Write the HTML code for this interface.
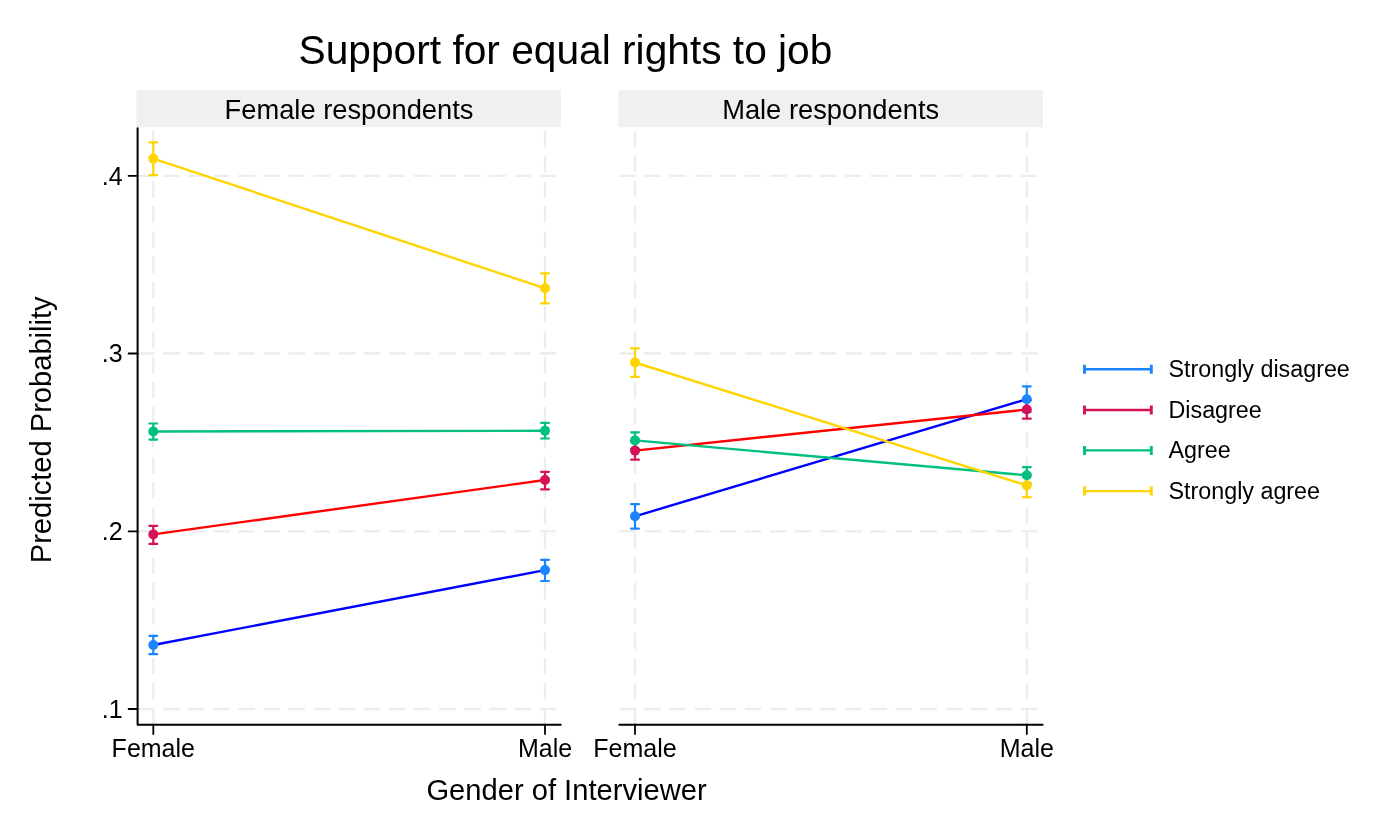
<!DOCTYPE html>
<html><head><meta charset="utf-8"><style>
html,body{margin:0;padding:0;background:#fff;width:1399px;height:839px;overflow:hidden}
body{position:relative;font-family:"Liberation Sans",sans-serif}
</style></head><body>
<svg width="1399" height="839" viewBox="0 0 1399 839" style="position:absolute;left:0;top:0;will-change:transform">
<rect x="136.5" y="90.2" width="424.4" height="37" fill="#f0f0f0"/>
<rect x="618.3" y="90.2" width="424.7" height="37" fill="#f0f0f0"/>
<line x1="137.9" y1="175.8" x2="560.7" y2="175.8" stroke="#ededed" stroke-width="2.3" stroke-dasharray="16.6 8.5"/>
<line x1="137.9" y1="353.5" x2="560.7" y2="353.5" stroke="#ededed" stroke-width="2.3" stroke-dasharray="16.6 8.5"/>
<line x1="137.9" y1="531.3" x2="560.7" y2="531.3" stroke="#ededed" stroke-width="2.3" stroke-dasharray="16.6 8.5"/>
<line x1="137.9" y1="709.0" x2="560.7" y2="709.0" stroke="#ededed" stroke-width="2.3" stroke-dasharray="16.6 8.5"/>
<line x1="153.3" y1="724.7" x2="153.3" y2="128.0" stroke="#ededed" stroke-width="2.3" stroke-dasharray="16.6 8.5"/>
<line x1="545.0" y1="724.7" x2="545.0" y2="128.0" stroke="#ededed" stroke-width="2.3" stroke-dasharray="16.6 8.5"/>
<line x1="619.3" y1="175.8" x2="1042.6" y2="175.8" stroke="#ededed" stroke-width="2.3" stroke-dasharray="16.6 8.5"/>
<line x1="619.3" y1="353.5" x2="1042.6" y2="353.5" stroke="#ededed" stroke-width="2.3" stroke-dasharray="16.6 8.5"/>
<line x1="619.3" y1="531.3" x2="1042.6" y2="531.3" stroke="#ededed" stroke-width="2.3" stroke-dasharray="16.6 8.5"/>
<line x1="619.3" y1="709.0" x2="1042.6" y2="709.0" stroke="#ededed" stroke-width="2.3" stroke-dasharray="16.6 8.5"/>
<line x1="635.0" y1="724.7" x2="635.0" y2="128.0" stroke="#ededed" stroke-width="2.3" stroke-dasharray="16.6 8.5"/>
<line x1="1026.8" y1="724.7" x2="1026.8" y2="128.0" stroke="#ededed" stroke-width="2.3" stroke-dasharray="16.6 8.5"/>
<path d="M137.6,128.2V724.7H560.7" stroke="#000" stroke-width="2.0" fill="none" stroke-linecap="round" stroke-linejoin="round"/>
<line x1="153.3" y1="724.7" x2="153.3" y2="734.0" stroke="#000" stroke-width="1.8" stroke-linecap="round"/>
<line x1="545.0" y1="724.7" x2="545.0" y2="734.0" stroke="#000" stroke-width="1.8" stroke-linecap="round"/>
<line x1="619.3" y1="724.7" x2="1042.6" y2="724.7" stroke="#000" stroke-width="2.0" stroke-linecap="round"/>
<line x1="635.0" y1="724.7" x2="635.0" y2="734.0" stroke="#000" stroke-width="1.8" stroke-linecap="round"/>
<line x1="1026.8" y1="724.7" x2="1026.8" y2="734.0" stroke="#000" stroke-width="1.8" stroke-linecap="round"/>
<line x1="128.6" y1="175.8" x2="137.6" y2="175.8" stroke="#000" stroke-width="1.8" stroke-linecap="round"/>
<line x1="128.6" y1="353.5" x2="137.6" y2="353.5" stroke="#000" stroke-width="1.8" stroke-linecap="round"/>
<line x1="128.6" y1="531.3" x2="137.6" y2="531.3" stroke="#000" stroke-width="1.8" stroke-linecap="round"/>
<line x1="128.6" y1="709.0" x2="137.6" y2="709.0" stroke="#000" stroke-width="1.8" stroke-linecap="round"/>
<path d="M153.3,635.9V654.2M149.4,635.9H157.20000000000002M149.4,654.2H157.20000000000002" stroke="#1a85ff" stroke-width="2.2" fill="none" stroke-linecap="round"/>
<path d="M545.0,559.8V581.0M541.1,559.8H548.9M541.1,581.0H548.9" stroke="#1a85ff" stroke-width="2.2" fill="none" stroke-linecap="round"/>
<path d="M153.3,525.8V543.9M149.4,525.8H157.20000000000002M149.4,543.9H157.20000000000002" stroke="#d41159" stroke-width="2.2" fill="none" stroke-linecap="round"/>
<path d="M545.0,471.8V489.4M541.1,471.8H548.9M541.1,489.4H548.9" stroke="#d41159" stroke-width="2.2" fill="none" stroke-linecap="round"/>
<path d="M153.3,423.5V439.6M149.4,423.5H157.20000000000002M149.4,439.6H157.20000000000002" stroke="#00bf7f" stroke-width="2.2" fill="none" stroke-linecap="round"/>
<path d="M545.0,422.9V438.5M541.1,422.9H548.9M541.1,438.5H548.9" stroke="#00bf7f" stroke-width="2.2" fill="none" stroke-linecap="round"/>
<path d="M153.3,142.3V175.1M149.4,142.3H157.20000000000002M149.4,175.1H157.20000000000002" stroke="#ffd400" stroke-width="2.2" fill="none" stroke-linecap="round"/>
<path d="M545.0,273.4V303.3M541.1,273.4H548.9M541.1,303.3H548.9" stroke="#ffd400" stroke-width="2.2" fill="none" stroke-linecap="round"/>
<path d="M635.0,504.2V528.6M631.1,504.2H638.9M631.1,528.6H638.9" stroke="#1a85ff" stroke-width="2.2" fill="none" stroke-linecap="round"/>
<path d="M1026.8,386.4V412.0M1022.9,386.4H1030.7M1022.9,412.0H1030.7" stroke="#1a85ff" stroke-width="2.2" fill="none" stroke-linecap="round"/>
<path d="M635.0,441.5V459.7M631.1,441.5H638.9M631.1,459.7H638.9" stroke="#d41159" stroke-width="2.2" fill="none" stroke-linecap="round"/>
<path d="M1026.8,400.3V418.7M1022.9,400.3H1030.7M1022.9,418.7H1030.7" stroke="#d41159" stroke-width="2.2" fill="none" stroke-linecap="round"/>
<path d="M635.0,432.3V448.5M631.1,432.3H638.9M631.1,448.5H638.9" stroke="#00bf7f" stroke-width="2.2" fill="none" stroke-linecap="round"/>
<path d="M1026.8,467.2V483.4M1022.9,467.2H1030.7M1022.9,483.4H1030.7" stroke="#00bf7f" stroke-width="2.2" fill="none" stroke-linecap="round"/>
<path d="M635.0,348.3V376.9M631.1,348.3H638.9M631.1,376.9H638.9" stroke="#ffd400" stroke-width="2.2" fill="none" stroke-linecap="round"/>
<path d="M1026.8,473.6V497.2M1022.9,473.6H1030.7M1022.9,497.2H1030.7" stroke="#ffd400" stroke-width="2.2" fill="none" stroke-linecap="round"/>
<line x1="153.3" y1="645.0" x2="545.0" y2="570.1" stroke="#0000ff" stroke-width="2.4"/>
<circle cx="153.3" cy="645.0" r="5.0" fill="#1a85ff"/>
<circle cx="545.0" cy="570.1" r="5.0" fill="#1a85ff"/>
<line x1="153.3" y1="534.4" x2="545.0" y2="480.0" stroke="#ff0000" stroke-width="2.4"/>
<circle cx="153.3" cy="534.4" r="5.0" fill="#d41159"/>
<circle cx="545.0" cy="480.0" r="5.0" fill="#d41159"/>
<line x1="153.3" y1="431.5" x2="545.0" y2="430.8" stroke="#00bf7f" stroke-width="2.4"/>
<circle cx="153.3" cy="431.5" r="5.0" fill="#00bf7f"/>
<circle cx="545.0" cy="430.8" r="5.0" fill="#00bf7f"/>
<line x1="153.3" y1="158.6" x2="545.0" y2="288.3" stroke="#ffd400" stroke-width="2.4"/>
<circle cx="153.3" cy="158.6" r="5.0" fill="#ffd400"/>
<circle cx="545.0" cy="288.3" r="5.0" fill="#ffd400"/>
<line x1="635.0" y1="516.3" x2="1026.8" y2="399.2" stroke="#0000ff" stroke-width="2.4"/>
<circle cx="635.0" cy="516.3" r="5.0" fill="#1a85ff"/>
<circle cx="1026.8" cy="399.2" r="5.0" fill="#1a85ff"/>
<line x1="635.0" y1="450.6" x2="1026.8" y2="409.5" stroke="#ff0000" stroke-width="2.4"/>
<circle cx="635.0" cy="450.6" r="5.0" fill="#d41159"/>
<circle cx="1026.8" cy="409.5" r="5.0" fill="#d41159"/>
<line x1="635.0" y1="440.4" x2="1026.8" y2="475.3" stroke="#00bf7f" stroke-width="2.4"/>
<circle cx="635.0" cy="440.4" r="5.0" fill="#00bf7f"/>
<circle cx="1026.8" cy="475.3" r="5.0" fill="#00bf7f"/>
<line x1="635.0" y1="362.5" x2="1026.8" y2="485.4" stroke="#ffd400" stroke-width="2.4"/>
<circle cx="635.0" cy="362.5" r="5.0" fill="#ffd400"/>
<circle cx="1026.8" cy="485.4" r="5.0" fill="#ffd400"/>
<path d="M1084.5,369.3H1151.3" stroke="#1a85ff" stroke-width="2.4" fill="none"/><path d="M1084.5,364.8V373.8M1151.3,364.8V373.8" stroke="#1a85ff" stroke-width="2.9" fill="none"/>
<path d="M1084.5,410.0H1151.3" stroke="#d41159" stroke-width="2.4" fill="none"/><path d="M1084.5,405.5V414.5M1151.3,405.5V414.5" stroke="#d41159" stroke-width="2.9" fill="none"/>
<path d="M1084.5,450.4H1151.3" stroke="#00bf7f" stroke-width="2.4" fill="none"/><path d="M1084.5,445.9V454.9M1151.3,445.9V454.9" stroke="#00bf7f" stroke-width="2.9" fill="none"/>
<path d="M1084.5,491.1H1151.3" stroke="#ffd400" stroke-width="2.4" fill="none"/><path d="M1084.5,486.6V495.6M1151.3,486.6V495.6" stroke="#ffd400" stroke-width="2.9" fill="none"/>
<text x="1168.5" y="377.2" font-family="Liberation Sans, sans-serif" font-size="23.3">Strongly disagree</text>
<text x="1168.5" y="417.9" font-family="Liberation Sans, sans-serif" font-size="23.3">Disagree</text>
<text x="1168.5" y="458.3" font-family="Liberation Sans, sans-serif" font-size="23.3">Agree</text>
<text x="1168.5" y="499.0" font-family="Liberation Sans, sans-serif" font-size="23.3">Strongly agree</text>
<text x="565.5" y="63.8" font-family="Liberation Sans, sans-serif" font-size="40.7" text-anchor="middle">Support for equal rights to job</text>
<text x="349" y="118.6" font-family="Liberation Sans, sans-serif" font-size="27.3" text-anchor="middle">Female respondents</text>
<text x="830.65" y="118.6" font-family="Liberation Sans, sans-serif" font-size="27.3" text-anchor="middle">Male respondents</text>
<text x="153.3" y="756.9" font-family="Liberation Sans, sans-serif" font-size="25" text-anchor="middle">Female</text>
<text x="545.0" y="756.9" font-family="Liberation Sans, sans-serif" font-size="25" text-anchor="middle">Male</text>
<text x="635.0" y="756.9" font-family="Liberation Sans, sans-serif" font-size="25" text-anchor="middle">Female</text>
<text x="1026.8" y="756.9" font-family="Liberation Sans, sans-serif" font-size="25" text-anchor="middle">Male</text>
<text x="122.6" y="184.5" font-family="Liberation Sans, sans-serif" font-size="25" text-anchor="end">.4</text>
<text x="122.6" y="362.2" font-family="Liberation Sans, sans-serif" font-size="25" text-anchor="end">.3</text>
<text x="122.6" y="540.0" font-family="Liberation Sans, sans-serif" font-size="25" text-anchor="end">.2</text>
<text x="122.6" y="717.7" font-family="Liberation Sans, sans-serif" font-size="25" text-anchor="end">.1</text>
<text x="566.5" y="799.8" font-family="Liberation Sans, sans-serif" font-size="29.15" text-anchor="middle">Gender of Interviewer</text>
<text transform="translate(51.2,429.8) rotate(-90)" x="0" y="0" font-family="Liberation Sans, sans-serif" font-size="29.1" text-anchor="middle">Predicted Probability</text>
</svg>
</body></html>
